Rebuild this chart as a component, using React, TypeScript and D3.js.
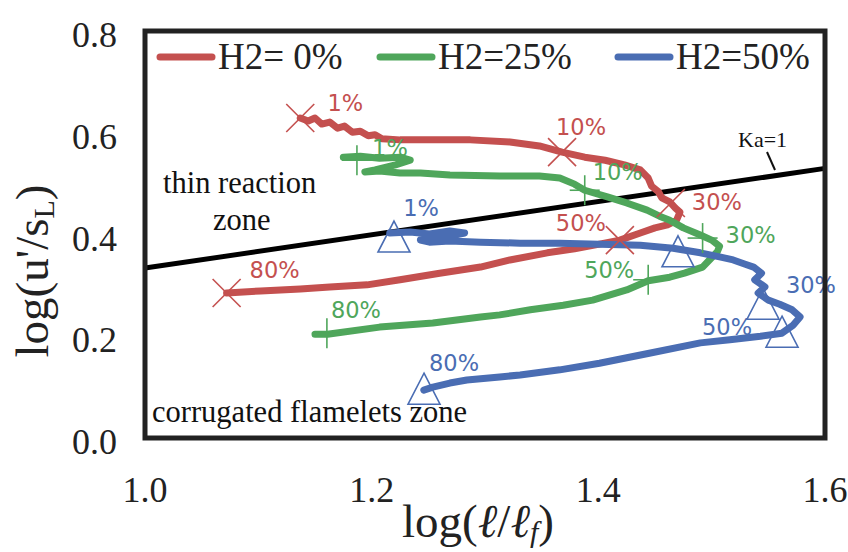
import React from 'react';
import * as d3 from 'd3';

const W = 848;
const H = 552;

const xTicks = [1.0, 1.2, 1.4, 1.6];
const yTicks = [0.0, 0.2, 0.4, 0.6, 0.8];

// H2 = 0%
const redX = [1.137, 1.144, 1.150, 1.156, 1.163, 1.170, 1.176, 1.183, 1.190, 1.197, 1.203, 1.209, 1.225, 1.251, 1.287, 1.322, 1.348, 1.368, 1.388, 1.406, 1.423, 1.437, 1.444, 1.447, 1.453, 1.456, 1.463, 1.468, 1.472, 1.469, 1.461, 1.450, 1.437, 1.419, 1.401, 1.379, 1.355, 1.322, 1.296, 1.260, 1.225, 1.196, 1.163, 1.137, 1.102, 1.072];
const redY = [0.629, 0.623, 0.629, 0.617, 0.621, 0.609, 0.613, 0.601, 0.603, 0.594, 0.596, 0.588, 0.586, 0.586, 0.586, 0.582, 0.574, 0.562, 0.552, 0.546, 0.537, 0.527, 0.511, 0.495, 0.484, 0.472, 0.464, 0.452, 0.444, 0.428, 0.419, 0.413, 0.403, 0.389, 0.381, 0.372, 0.364, 0.350, 0.336, 0.324, 0.311, 0.301, 0.297, 0.293, 0.289, 0.285];

// H2 = 25%
const greenX = [1.175, 1.190, 1.207, 1.225, 1.234, 1.221, 1.203, 1.194, 1.207, 1.225, 1.243, 1.269, 1.313, 1.348, 1.366, 1.379, 1.388, 1.408, 1.425, 1.443, 1.454, 1.463, 1.475, 1.490, 1.500, 1.507, 1.505, 1.498, 1.492, 1.476, 1.463, 1.444, 1.425, 1.395, 1.369, 1.340, 1.313, 1.296, 1.254, 1.207, 1.161, 1.150];
const greenY = [0.552, 0.554, 0.550, 0.552, 0.546, 0.537, 0.527, 0.523, 0.525, 0.521, 0.521, 0.517, 0.515, 0.515, 0.511, 0.499, 0.487, 0.474, 0.462, 0.448, 0.436, 0.428, 0.413, 0.399, 0.389, 0.377, 0.366, 0.350, 0.336, 0.324, 0.316, 0.309, 0.291, 0.271, 0.261, 0.252, 0.242, 0.238, 0.226, 0.218, 0.204, 0.204];

// H2 = 50%
const blueX = [1.216, 1.234, 1.251, 1.269, 1.282, 1.265, 1.243, 1.251, 1.269, 1.296, 1.331, 1.366, 1.401, 1.437, 1.466, 1.490, 1.507, 1.519, 1.529, 1.537, 1.544, 1.538, 1.547, 1.541, 1.550, 1.560, 1.571, 1.578, 1.572, 1.562, 1.543, 1.516, 1.490, 1.446, 1.401, 1.366, 1.331, 1.313, 1.284, 1.269, 1.254, 1.246];
const blueY = [0.403, 0.405, 0.401, 0.407, 0.403, 0.395, 0.389, 0.385, 0.387, 0.385, 0.383, 0.383, 0.381, 0.379, 0.373, 0.364, 0.356, 0.350, 0.342, 0.336, 0.324, 0.311, 0.297, 0.285, 0.271, 0.263, 0.252, 0.238, 0.222, 0.206, 0.200, 0.193, 0.187, 0.167, 0.147, 0.134, 0.124, 0.120, 0.114, 0.108, 0.100, 0.094];

// Ka = 1 boundary
const kaX = [1.0, 1.6];
const kaY = [0.334, 0.530];

const pctLabels = ['1%', '10%', '30%', '50%', '80%'];
const redMarkX = [1.137, 1.368, 1.464, 1.419, 1.072];
const redMarkY = [0.629, 0.562, 0.462, 0.389, 0.285];
const greenMarkX = [1.187, 1.388, 1.492, 1.444, 1.1605];
const greenMarkY = [0.546, 0.487, 0.393, 0.311, 0.206];
const blueMarkX = [1.2197, 1.4703, 1.5453, 1.5621, 1.2462];
const blueMarkY = [0.393, 0.364, 0.261, 0.206, 0.094];
const blueShowLabel = [true, false, true, true, true];

const legendNames = ['H2= 0%', 'H2=25%', 'H2=50%'];

const RED = '#C4504F';
const GREEN = '#4FA65B';
const BLUE = '#4A6DB3';

const redLabelOff = [[45, -15], [19, -25], [46, -1], [-39, -17], [48, -23]];
const greenLabelOff = [[33, -12], [33, -18], [48, -3], [-39, -10], [29, -23]];
const blueLabelOff = [[27, -30], [0, 0], [48, -20], [-55, -6], [30, -27]];

export default function App() {
  const x = d3.scaleLinear().domain([1.0, 1.6]).range([145, 825]);
  const y = d3.scaleLinear().domain([0, 0.8]).range([438, 31]);
  const line = d3
    .line<[number, number]>()
    .x((d) => x(d[0]))
    .y((d) => y(d[1]));

  const zip = (a: number[], b: number[]) => a.map((v, i) => [v, b[i]] as [number, number]);

  const serif = '"Liberation Serif", "Times New Roman", serif';
  const sans = '"DejaVu Sans", Verdana, sans-serif';

  const series = [
    { xs: redX, ys: redY, c: RED },
    { xs: greenX, ys: greenY, c: GREEN },
    { xs: blueX, ys: blueY, c: BLUE },
  ];

  const pctFont = 22.5;

  return (
    <div style={{ position: 'fixed', left: 0, top: 0 }}>
      <svg width={W} height={H} style={{ display: 'block', background: '#fff' }}>
        <rect x={0} y={0} width={W} height={H} fill="#fff" />
        {/* Ka=1 line */}
        <path d={line(zip(kaX, kaY)) || ''} stroke="#000" strokeWidth={5} fill="none" />
        {/* series */}
        {series.map((s, i) => (
          <path
            key={i}
            d={line(zip(s.xs, s.ys)) || ''}
            stroke={s.c}
            strokeWidth={7}
            fill="none"
            strokeLinejoin="round"
            strokeLinecap="round"
          />
        ))}
        {/* red X markers */}
        {redMarkX.map((mx, i) => {
          const cx = x(mx), cy = y(redMarkY[i]);
          const r = 14;
          return (
            <g key={'rx' + i} stroke={RED} strokeWidth={1.6}>
              <line x1={cx - r} y1={cy - r} x2={cx + r} y2={cy + r} />
              <line x1={cx - r} y1={cy + r} x2={cx + r} y2={cy - r} />
            </g>
          );
        })}
        {/* green + markers */}
        {greenMarkX.map((mx, i) => {
          const cx = x(mx), cy = y(greenMarkY[i]);
          const r = 15;
          return (
            <g key={'gp' + i} stroke={GREEN} strokeWidth={1.6}>
              <line x1={cx} y1={cy - r} x2={cx} y2={cy + r} />
              <line x1={cx - r} y1={cy} x2={cx + r} y2={cy} />
            </g>
          );
        })}
        {/* blue triangles */}
        {blueMarkX.map((mx, i) => {
          const cx = x(mx), cy = y(blueMarkY[i]);
          return (
            <path
              key={'bt' + i}
              d={`M${cx},${cy - 17} L${cx + 16},${cy + 14} L${cx - 16},${cy + 14} Z`}
              stroke={BLUE}
              strokeWidth={1.6}
              fill="none"
            />
          );
        })}
        {/* percentage labels */}
        {pctLabels.map((t, i) => (
          <text key={'rl' + i} x={x(redMarkX[i]) + redLabelOff[i][0]} y={y(redMarkY[i]) + redLabelOff[i][1]}
            fill={RED} fontFamily={sans} fontSize={pctFont} textAnchor="middle" dominantBaseline="central">{t}</text>
        ))}
        {pctLabels.map((t, i) => (
          <text key={'gl' + i} x={x(greenMarkX[i]) + greenLabelOff[i][0]} y={y(greenMarkY[i]) + greenLabelOff[i][1]}
            fill={GREEN} fontFamily={sans} fontSize={pctFont} textAnchor="middle" dominantBaseline="central">{t}</text>
        ))}
        {pctLabels.map((t, i) =>
          blueShowLabel[i] ? (
            <text key={'bl' + i} x={x(blueMarkX[i]) + blueLabelOff[i][0]} y={y(blueMarkY[i]) + blueLabelOff[i][1]}
              fill={BLUE} fontFamily={sans} fontSize={pctFont} textAnchor="middle" dominantBaseline="central">{t}</text>
          ) : null
        )}
        {/* frame */}
        <rect x={x(1.0)} y={y(0.8)} width={x(1.6) - x(1.0)} height={y(0) - y(0.8)} fill="none" stroke="#222" strokeWidth={5} />
        {/* legend */}
        {legendNames.map((n, i) => {
          const lx = [160, 380, 618][i];
          return (
            <g key={'lg' + i}>
              <line x1={lx} y1={57} x2={lx + 52} y2={57} stroke={[RED, GREEN, BLUE][i]} strokeWidth={7} strokeLinecap="round" />
              <text x={lx + 58} y={69} fontFamily={serif} fontSize={37} fill="#222">{n}</text>
            </g>
          );
        })}
        {/* zone annotations */}
        <text x={163} y={193} fontFamily={serif} fontSize={30.5} fill="#111">thin reaction</text>
        <text x={213} y={230} fontFamily={serif} fontSize={30.5} fill="#111">zone</text>
        <text x={152} y={422} fontFamily={serif} fontSize={30.5} fill="#111">corrugated flamelets zone</text>
        <text x={738} y={147} fontFamily={serif} fontSize={22} fill="#111">Ka=1</text>
        <line x1={767} y1={152} x2={775} y2={170} stroke="#111" strokeWidth={2} />
        {/* y ticks */}
        {yTicks.map((t) => (
          <text key={'yt' + t} x={117} y={y(t) + 4} textAnchor="end" dominantBaseline="central" fontFamily={serif} fontSize={36} fill="#222">
            {t.toFixed(1)}
          </text>
        ))}
        {/* x ticks */}
        {xTicks.map((t) => (
          <text key={'xt' + t} x={x(t)} y={490} textAnchor="middle" dominantBaseline="central" fontFamily={serif} fontSize={36} fill="#222">
            {t.toFixed(1)}
          </text>
        ))}
        {/* axis titles */}
        <text x={478} y={537} textAnchor="middle" fontFamily={serif} fontSize={47} fill="#222">
          log(<tspan fontStyle="italic">ℓ</tspan>/<tspan fontStyle="italic">ℓ</tspan>
          <tspan fontStyle="italic" fontSize={30} dy={5}>f</tspan>
          <tspan dy={-5}>)</tspan>
        </text>
        <text transform="translate(48,271) rotate(-90)" textAnchor="middle" fontFamily={serif} fontSize={47} fill="#222">
          log(u'/s<tspan fontSize={30} dy={6}>L</tspan><tspan dy={-6}>)</tspan>
        </text>
      </svg>
    </div>
  );
}
